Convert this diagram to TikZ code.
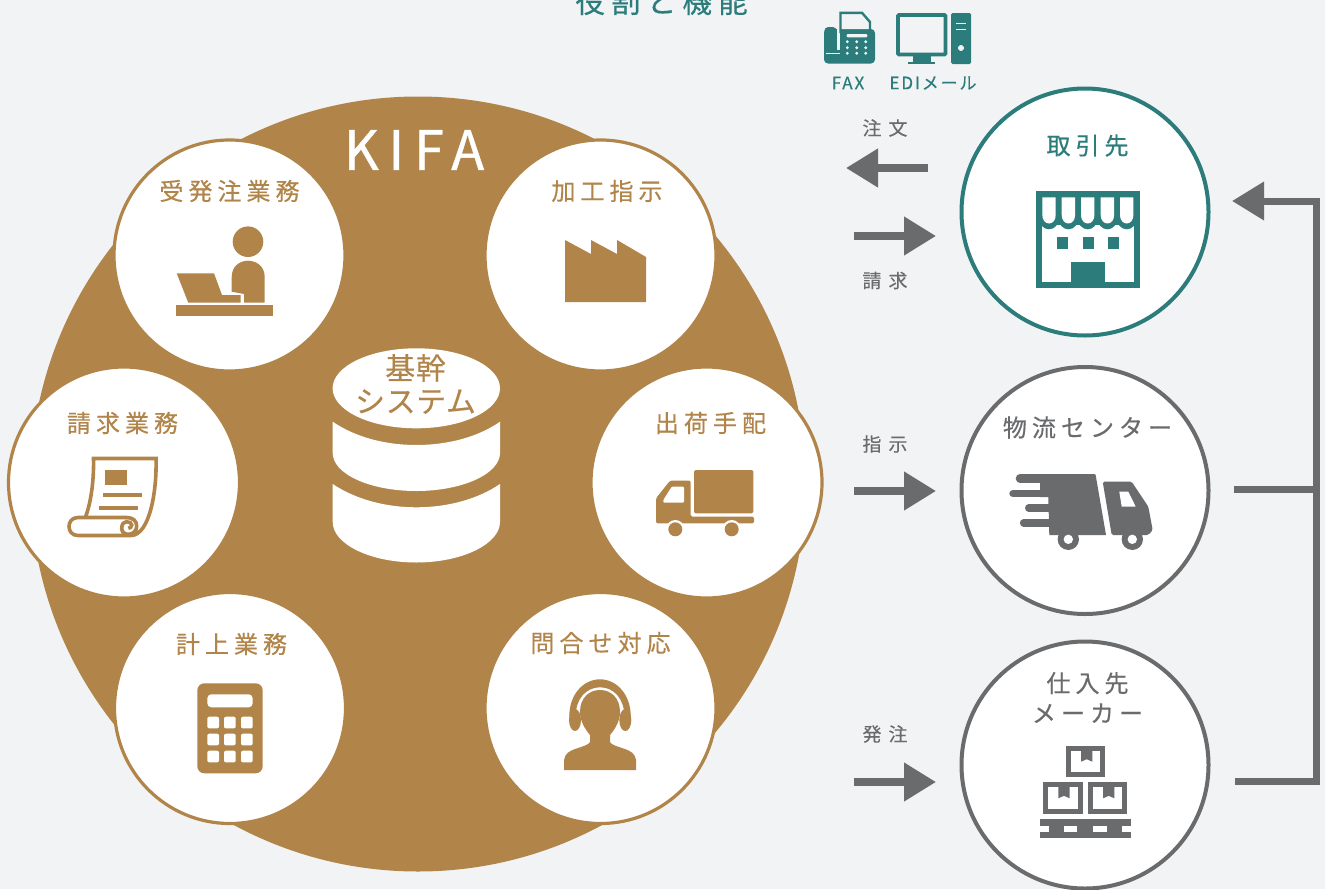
\documentclass[tikz,border=0pt]{standalone}
\usepackage{fontspec}
\usetikzlibrary{arrows.meta}
\newfontfamily\jpA[LetterSpace=21,FakeBold=0.4]{Noto Sans CJK JP}
\newfontfamily\jpB[LetterSpace=2,FakeBold=0.25]{Noto Sans CJK JP}
\newfontfamily\jpC[LetterSpace=18,FakeBold=0.8]{Noto Sans CJK JP}
\newfontfamily\jpD[LetterSpace=37,FakeBold=0.25]{Noto Sans CJK JP}
\newfontfamily\jpE[LetterSpace=11,FakeBold=0.5]{Noto Sans CJK JP}
\definecolor{bgc}{HTML}{F1F3F5}
\definecolor{brownc}{HTML}{B1854A}
\definecolor{tealc}{HTML}{2B7C7B}
\definecolor{grayc}{HTML}{6A6B6D}
\tikzset{
  disc/.style={circle,fill=white,draw=brownc,line width=3.2pt,minimum size=231pt,inner sep=0pt},
  partner/.style={circle,fill=white,draw=grayc,line width=4pt,minimum size=247pt,inner sep=0pt},
  tlabel/.style={inner sep=0pt,align=center,text=brownc,font=\jpA\fontsize{24}{30}\selectfont},
  rlabel/.style={inner sep=0pt,align=center,text=grayc,font=\jpA\fontsize{24}{30}\selectfont},
  alabel/.style={inner sep=0pt,text=grayc,font=\jpD\fontsize{19}{22}\selectfont},
  ilabel/.style={inner sep=0pt,text=tealc,font=\jpE\fontsize{17}{20}\selectfont},
  flow/.style={draw=grayc,line width=7.5pt,-{Triangle[length=32pt,width=37pt,color=grayc]}},
  bline/.style={draw=grayc,line width=7pt,line join=miter},
}
\begin{document}
\begin{tikzpicture}[x=1pt,y=-1pt]
\useasboundingbox (0,0) rectangle (1325,889);
\fill[bgc] (0,0) rectangle (1325,889);
% title
\node[inner sep=0pt,text=tealc,font=\jpA\fontsize{29.5}{30}\selectfont] (title) at (661.5,1.5) {役割と機能};
% big circle
\node[circle,fill=brownc,minimum size=775pt,inner sep=0pt] (kifa) at (418,484) {};
\node[inner sep=0pt,text=white,font=\jpC\fontsize{54}{54}\selectfont] (kifat) at (414,150) {KIFA};
% discs
\node[disc] (d1) at (229.5,255.5) {};
\node[disc] (d2) at (600.5,255.5) {};
\node[disc] (d3) at (124,482.5) {};
\node[disc] (d4) at (706.5,482.5) {};
\node[disc] (d5) at (230,708) {};
\node[disc] (d6) at (600.5,708) {};
\node[tlabel] (l1) at (229.5,191) {受発注業務};
\node[tlabel] (l2) at (607,191) {加工指示};
\node[tlabel] (l3) at (122.5,423) {請求業務};
\node[tlabel] (l4) at (710.5,423) {出荷手配};
\node[tlabel] (l5) at (231.5,644) {計上業務};
\node[tlabel] (l6) at (600.5,643) {問合せ対応};
% database
\fill[white] (416.3,388.3) circle [x radius=83.7,y radius=40];
\fill[white] (332.7,421.7) .. controls (355,437) and (385,445) .. (416.3,445) .. controls (448,445) and (478,437) .. (500,421.7) -- (500,453) .. controls (500,474) and (462,491) .. (416.3,491) .. controls (370,491) and (332.7,474) .. (332.7,453) -- cycle;
\fill[white] (332.7,484) .. controls (355,499) and (385,507.3) .. (416.3,507.3) .. controls (448,507.3) and (478,499) .. (500,484) -- (500,522) .. controls (500,544) and (462,562.5) .. (416.3,562.5) .. controls (370,562.5) and (332.7,544) .. (332.7,522) -- cycle;
\node[inner sep=0pt,text=brownc,align=center,font=\jpB\fontsize{30}{33}\selectfont] (dbt) at (415.5,384) {基幹\\システム};
% person at laptop
\fill[brownc] (248,241.7) circle [radius=15.3];
\fill[brownc] (231.7,291.7) -- (231.7,277) .. controls (231.7,266) and (240,260.7) .. (248,260.7) .. controls (256,260.7) and (264.7,266) .. (264.7,277) -- (264.7,302.7) -- (244,302.7) -- (244,294) -- cycle;
\fill[brownc] (176.7,273.3) -- (214,273.3) -- (222,295) -- (240.7,295) -- (240.7,302.7) -- (188.3,302.7) -- cycle;
\fill[brownc] (176,305) rectangle (273,315.7);
% factory
\fill[brownc] (565,240) -- (591,254) -- (591,240) -- (617,254) -- (617,240) -- (646,257) -- (646,302) -- (565,302) -- cycle;
% scroll
\draw[brownc,line width=3.6pt,line join=miter] (85.5,517) .. controls (92,500) and (94,475) .. (93.5,458.5) -- (156,458.5) .. controls (157,490) and (150,535) .. (131,535.5) -- (78,535.5) .. controls (66,535.5) and (66,517.5) .. (78,517.5) -- (126.7,517.5) .. controls (133,517.5) and (136.7,521) .. (136.7,526) .. controls (136.7,531) and (133,534.3) .. (128.3,534.3) .. controls (124,534.3) and (121.7,531.5) .. (121.7,528.3) .. controls (121.7,524) and (124,521.7) .. (126.5,521.7) .. controls (129.5,521.7) and (131.7,523) .. (131.7,525) .. controls (131.7,527) and (130,528.3) .. (128.3,528.3);
\fill[brownc] (104.7,469.7) rectangle (126.7,485.3);
\fill[brownc] (103,493) rectangle (142,497);
\fill[brownc] (99,506) rectangle (138,510);
% brown truck
\fill[brownc,rounded corners=1.5pt] (694,470) rectangle (753.3,513.3);
\fill[brownc,rounded corners=1.5pt] (656,498.3) -- (670,480.7) -- (690.7,480.7) -- (690.7,516.7) -- (754,516.7) -- (754,523.3) -- (656,523.3) -- cycle;
\fill[white,rounded corners=1pt] (663.3,500) -- (671.7,486.7) -- (684,486.7) -- (684,502.7) -- (663.3,502.7) -- cycle;
\fill[white] (675.3,529.3) circle [radius=9.3];
\fill[white] (731.7,529.3) circle [radius=9.3];
\fill[brownc] (675.3,529.3) circle [radius=7];
\fill[brownc] (731.7,529.3) circle [radius=7];
% calculator
\fill[brownc,rounded corners=7pt] (197.3,683.3) rectangle (262.7,773.3);
\fill[white,rounded corners=4pt] (207.3,694.3) rectangle (252.7,707.3);
\foreach \xx in {207.3,224,241}{\foreach \yy in {716.7,733.7,750.7}{
  \fill[white,rounded corners=2pt] (\xx,\yy) rectangle (\xx+11.7,\yy+11.7);}}
% headset
\fill[brownc] (569.3,716) .. controls (569.3,695) and (583,679.3) .. (600,679.3) .. controls (617,679.3) and (630.7,695) .. (630.7,716) -- (624.3,716) .. controls (624.3,699) and (614,687.3) .. (600,687.3) .. controls (586,687.3) and (575.7,699) .. (575.7,716) -- cycle;
\fill[brownc] (575,720) circle [x radius=6,y radius=11];
\fill[brownc] (625.3,720) circle [x radius=6,y radius=11];
\fill[brownc] (564,770) -- (564,760) .. controls (565,753) and (570,751) .. (575,749) .. controls (582,746.5) and (589,745) .. (590,742) -- (590,735) .. controls (584,728) and (580,720) .. (580,712) .. controls (580,698) and (589,690) .. (600,690) .. controls (611,690) and (620,698) .. (620,712) .. controls (620,720) and (616,728) .. (610,735) -- (610,742) .. controls (611,745) and (618,746.5) .. (625,749) .. controls (630,751) and (635,753) .. (636,760) -- (636,770) -- cycle;
% partner circles
\node[partner,draw=tealc] (p1) at (1085,212) {};
\node[partner] (p2) at (1085,490.5) {};
\node[partner] (p3) at (1085,765) {};
\node[rlabel,text=tealc] (pl1) at (1087.5,145.5) {取引先};
\node[rlabel] (pl2) at (1087.5,427.5) {物流センター};
\node[rlabel] (pl3) at (1087.5,697.5) {仕入先\\メーカー};
% store
\fill[tealc] (1036,191) rectangle (1140,288);
\fill[white] (1042.3,225) rectangle (1134,281.7);
\foreach \xx in {1042.3,1061.7,1081,1100.7,1120}{
  \fill[tealc] (\xx+6.7,218) circle [x radius=10,y radius=11.3];
}
\fill[tealc] (1036,191) rectangle (1140,225);
\fill[tealc] (1036,225) rectangle (1042.3,288);
\fill[tealc] (1134,225) rectangle (1140,288);
\foreach \xx in {1042.3,1061.7,1081,1100.7,1120}{
  \fill[white] (\xx,197.3) -- (\xx+13.4,197.3) -- (\xx+13.4,215) .. controls (\xx+13.4,220) and (\xx+10.5,223.5) .. (\xx+6.7,223.5) .. controls (\xx+3,223.5) and (\xx,220) .. (\xx,215) -- cycle;
}
\fill[tealc] (1057,237) rectangle (1068,249);
\fill[tealc] (1083,237) rectangle (1094,249);
\fill[tealc] (1108,237) rectangle (1119,249);
\fill[tealc] (1071.3,261.7) rectangle (1105,288);
% speed truck
\fill[grayc] (1040,474) -- (1094,474) .. controls (1096,474) and (1095.5,475) .. (1096,477) -- (1106,535) -- (1049.3,535) -- (1048.3,497) -- (1040,497) -- cycle;
\draw[grayc,line width=8.6pt,line cap=round] (1020,478.4) -- (1045,478.4);
\draw[grayc,line width=7.4pt,line cap=round] (1013,493.7) -- (1045,493.7);
\draw[grayc,line width=7.4pt,line cap=round] (1028.7,508) -- (1055,508);
\draw[grayc,line width=7.6pt,line cap=round] (1023.7,522.8) -- (1055,522.8);
\fill[grayc,rounded corners=1.5pt] (1102.7,481.7) -- (1131.7,481.7) -- (1148.3,506.7) -- (1152.7,530) -- (1148.3,535) -- (1111.7,535) -- cycle;
\fill[white] (1119.3,491.7) -- (1128.3,491.7) -- (1135.7,506.7) -- (1121.7,506.7) -- cycle;
\fill[grayc] (1068.3,539.3) circle [radius=10.7];
\fill[grayc] (1132.3,539.3) circle [radius=10.7];
\fill[white] (1068.3,539.3) circle [radius=4.7];
\fill[white] (1132.3,539.3) circle [radius=4.7];
% boxes
\foreach \xx/\yy in {1065.7/745.7,1043/782.3,1087.7/782.3}{
  \draw[grayc,line width=5pt] (\xx+2.5,\yy+2.5) rectangle (\xx+37.1,\yy+29.1);
  \fill[grayc] (\xx+15.3,\yy+3) -- (\xx+26.7,\yy+3) -- (\xx+26.7,\yy+16) -- (\xx+21,\yy+13.5) -- (\xx+15.3,\yy+16) -- cycle;
}
\fill[grayc] (1039.7,819.3) rectangle (1130.7,837.7);
\fill[white] (1039.7,825.7) rectangle (1049.3,832);
\fill[white] (1064,825.7) rectangle (1077.3,832);
\fill[white] (1092.7,825.7) rectangle (1107.3,832);
\fill[white] (1122,825.7) rectangle (1130.7,832);
% fax
\fill[tealc,rounded corners=4pt] (824,29) rectangle (875,63.5);
\fill[bgc] (837,24) rectangle (840,50);
\fill[bgc] (826,52.5) rectangle (840,53.5);
\fill[tealc,rounded corners=4pt] (824.3,27) rectangle (836.7,52.5);
\fill[bgc] (840.5,12.5) -- (862,12.5) -- (870,22) -- (870,29) -- (840.5,29) -- cycle;
\draw[tealc,line width=2.4pt] (840.5,33) -- (840.5,12.8) -- (862,12.8) -- (870,22) -- (870,33);
\fill[bgc,rounded corners=1pt] (846.7,34) rectangle (867.3,37.3);
\foreach \xx in {847.3,856.7,865.7}{\foreach \yy in {41.7,47.7,53.3}{
  \fill[bgc] (\xx,\yy) circle [radius=1.6];}}
% computer
\draw[tealc,line width=3.6pt,rounded corners=1pt] (898,15) rectangle (945.5,54.5);
\fill[tealc] (913,56) rectangle (931,62);
\fill[tealc] (908,61.5) rectangle (935,64);
\fill[tealc,rounded corners=1.5pt] (951,13) rectangle (971,64);
\fill[bgc] (956,22.5) rectangle (966,24);
\fill[bgc] (956,28.7) rectangle (966,30.2);
\fill[bgc] (961,48) circle [radius=3];
\node[ilabel] (ifax) at (848,83) {FAX};
\node[ilabel] (iedi) at (933,83) {EDIメール};
% arrow labels
\node[alabel] (a1) at (885,128) {注文};
\node[alabel] (a2) at (885,280.5) {請求};
\node[alabel] (a3) at (885,444) {指示};
\node[alabel] (a4) at (885,734) {発注};
% arrows
\coordinate (o1a) at (928,168);  \coordinate (o1b) at (846,168);
\coordinate (o2a) at (854,236);  \coordinate (o2b) at (936,236);
\coordinate (o3a) at (854,491);  \coordinate (o3b) at (936,491);
\coordinate (o4a) at (854,782);  \coordinate (o4b) at (936,782);
\draw[flow] (o1a) -- (o1b);
\draw[flow] (o2a) -- (o2b);
\draw[flow] (o3a) -- (o3b);
\draw[flow] (o4a) -- (o4b);
% feedback lines
\coordinate (r1) at (1235,781);
\coordinate (r2) at (1316,781);
\coordinate (r3) at (1316,201);
\coordinate (r4) at (1232,201);
\coordinate (r5) at (1234,489);
\coordinate (r6) at (1316,489);
\draw[bline] (r5) -- (r6);
\draw[flow,line width=7pt] (r1) -- (r2) -- (r3) -- (r4);
\end{tikzpicture}
\end{document}
